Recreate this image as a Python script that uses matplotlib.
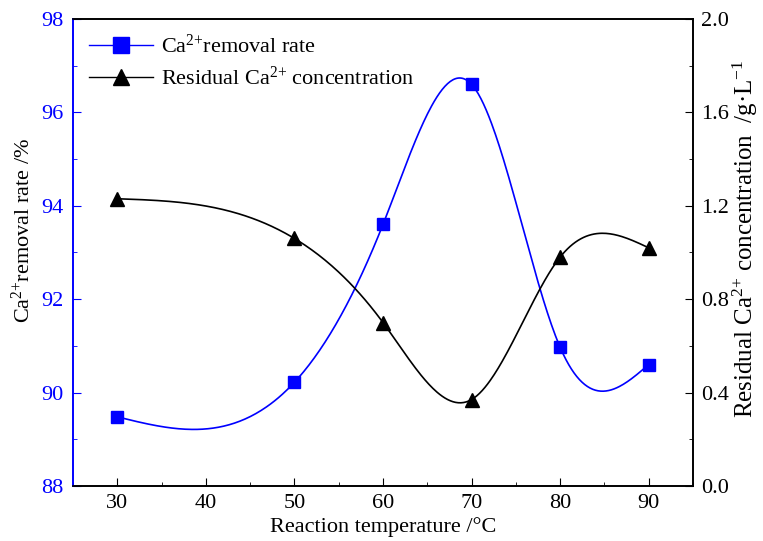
import numpy as np
import matplotlib
matplotlib.use("Agg")
import matplotlib.pyplot as plt
from matplotlib.ticker import MultipleLocator, FormatStrFormatter
from matplotlib.lines import Line2D

plt.rcParams['font.family'] = ['Liberation Serif', 'DejaVu Serif']
plt.rcParams['mathtext.fontset'] = 'custom'
plt.rcParams['mathtext.rm'] = 'Liberation Serif'
plt.rcParams['mathtext.it'] = 'Liberation Serif:italic'

temperature = [30, 50, 60, 70, 80, 90]
removal_rate = [89.48, 90.22, 93.6, 96.6, 90.97, 90.6]
residual_conc = [1.23, 1.06, 0.70, 0.37, 0.98, 1.02]


def natural_spline(x, y, n=400):
    x = np.asarray(x, float); y = np.asarray(y, float)
    m = len(x); h = np.diff(x)
    A = np.zeros((m, m)); b = np.zeros(m)
    A[0, 0] = A[-1, -1] = 1
    for i in range(1, m - 1):
        A[i, i - 1] = h[i - 1]; A[i, i] = 2 * (h[i - 1] + h[i]); A[i, i + 1] = h[i]
        b[i] = 3 * ((y[i + 1] - y[i]) / h[i] - (y[i] - y[i - 1]) / h[i - 1])
    c = np.linalg.solve(A, b)
    bb = (y[1:] - y[:-1]) / h - h * (2 * c[:-1] + c[1:]) / 3
    d = (c[1:] - c[:-1]) / (3 * h)
    xs = np.linspace(x[0], x[-1], n)
    idx = np.clip(np.searchsorted(x, xs) - 1, 0, m - 2)
    dx = xs - x[idx]
    ys = y[idx] + bb[idx] * dx + c[idx] * dx ** 2 + d[idx] * dx ** 3
    return xs, ys

fig = plt.figure(figsize=(7.63, 5.41), dpi=100)
ax = fig.add_axes([0.0957, 0.1017, 0.8125, 0.8633])
ax2 = ax.twinx()

blue = '#0000ff'
fs = 16

xs, ys = natural_spline(temperature, removal_rate)
ax.plot(xs, ys, color=blue, lw=1.2, zorder=3)
ax.plot(temperature, removal_rate, 's', color=blue, ms=8.5, zorder=4)
xs2, ys2 = natural_spline(temperature, residual_conc)
ax2.plot(xs2, ys2, color='black', lw=1.2, zorder=3)
ax2.plot(temperature, residual_conc, '^', color='black', ms=10, zorder=4)

ax.set_xlim(25, 95)
ax.set_ylim(88, 98)
ax2.set_ylim(0.0, 2.0)

ax.xaxis.set_major_locator(MultipleLocator(10))
ax.xaxis.set_minor_locator(MultipleLocator(5))
ax.yaxis.set_major_locator(MultipleLocator(2))
ax.yaxis.set_minor_locator(MultipleLocator(1))
ax2.yaxis.set_major_locator(MultipleLocator(0.4))
ax2.yaxis.set_minor_locator(MultipleLocator(0.2))
ax2.yaxis.set_major_formatter(FormatStrFormatter('%.1f'))

ax.tick_params(axis='both', which='both', direction='in', labelsize=fs)
ax.tick_params(axis='x', which='major', length=6, pad=6)
ax.tick_params(axis='x', which='minor', length=3)
ax.tick_params(axis='y', which='major', length=6, colors=blue, labelcolor=blue, pad=7)
ax.tick_params(axis='y', which='minor', length=3, colors=blue)
ax2.tick_params(axis='y', which='both', direction='in', labelsize=fs)
ax2.tick_params(axis='y', which='major', length=6, pad=6)
ax2.tick_params(axis='y', which='minor', length=3)

for a in (ax, ax2):
    for s in a.spines.values():
        s.set_linewidth(1.2)
ax2.spines['left'].set_color(blue)
ax.spines['left'].set_color(blue)

ax.set_xlabel('Reaction temperature /\u00b0C', fontsize=fs, labelpad=3)
ax.set_ylabel('Ca$^{2{+}}$removal rate /%', fontsize=fs)
ax.yaxis.set_label_coords(-0.061, 0.548)
ax2.set_ylabel('Residual Ca$^{2{+}}$ concentration  /g\u00b7L$^{-1}$', fontsize=18)
ax2.yaxis.set_label_coords(1.061, 0.529)

h1 = Line2D([], [], color=blue, marker='s', ms=11, lw=1.0)
h2 = Line2D([], [], color='black', marker='^', ms=11, lw=1.0)
ax.legend([h1, h2], ['Ca$^{2{+}}$removal rate', 'Residual Ca$^{2{+}}$ concentration'],
          loc='upper left', frameon=False, fontsize=fs, handlelength=2.9,
          handletextpad=0.35, borderaxespad=0.3, labelspacing=0.4)

fig.savefig('out.png', dpi=100)
